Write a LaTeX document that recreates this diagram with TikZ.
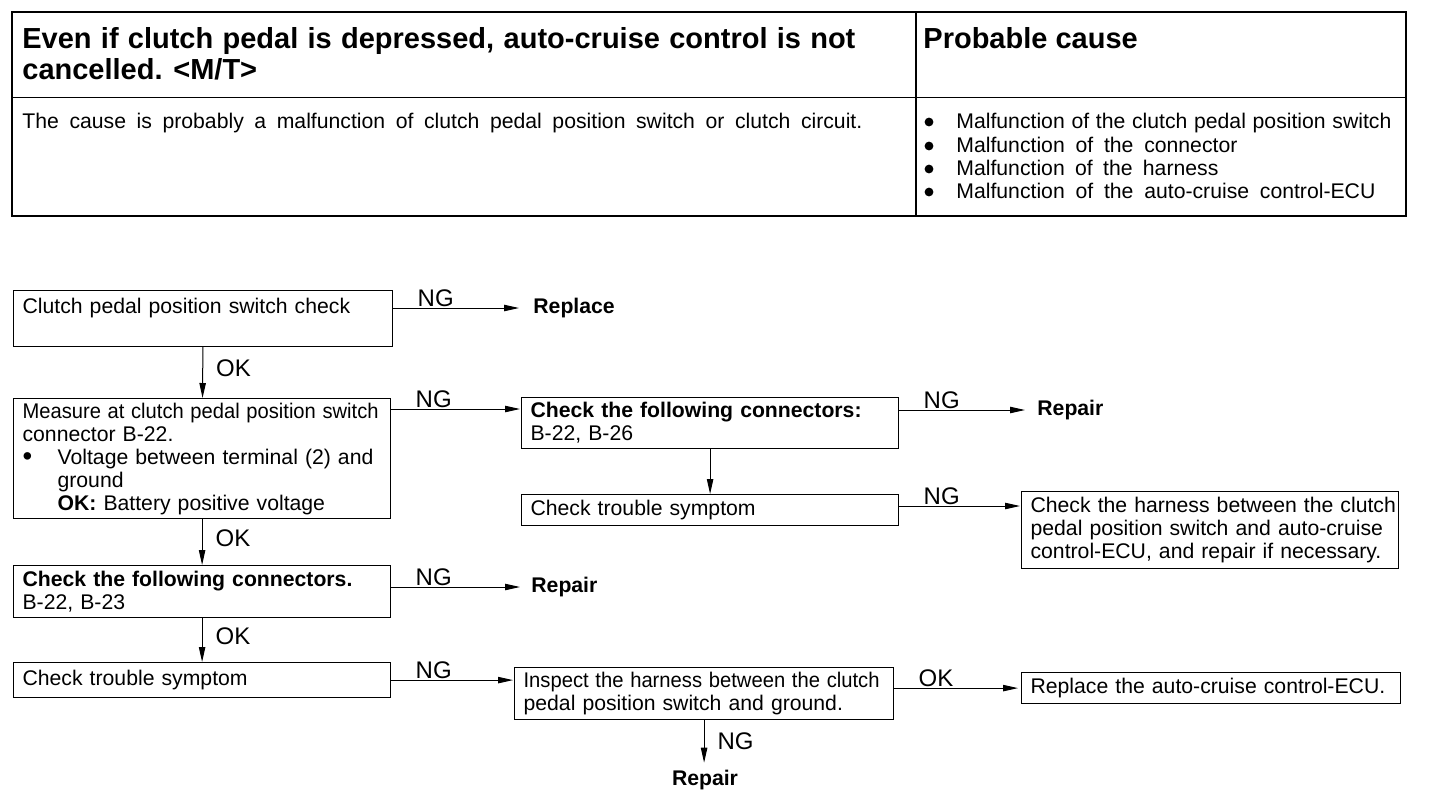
\documentclass[tikz,border=0pt]{standalone}
\usepackage{fontspec}
\setmainfont{Liberation Sans}
\usepackage{graphicx}
\usetikzlibrary{arrows.meta,calc}
\newcommand\jline[2]{\makebox[#1][s]{#2}}
\newcommand\sqline[2]{\resizebox{#1}{\height}{#2}}
\newcommand\bodyfont{\fontsize{10.6}{11.5}\selectfont}
\newcommand\bigbul{\raisebox{-0.6pt}{\scalebox{1.3}{\textbullet}}}
\begin{document}
\begin{tikzpicture}[x=0.5pt,y=-0.5pt,
  box/.style={draw, line width=0.6pt, anchor=north west, inner xsep=4.5pt, inner ysep=0pt, align=left, font=\bodyfont},
  txt/.style={inner sep=0pt, font=\bodyfont},
  ttl/.style={inner sep=0pt, font=\fontsize{14.5}{15.5}\selectfont\bfseries},
  res/.style={inner sep=0pt, font=\bodyfont\bfseries},
  lab/.style={inner sep=0.5pt, font=\fontsize{12}{12}\selectfont},
  ng/.style={lab, pos=0, anchor=south west, xshift=11.5pt},
  ok/.style={lab, midway, anchor=west, xshift=6pt, yshift=2pt},
  arr/.style={line width=0.5pt, -{Triangle[length=7.5pt,width=3.2pt]}}]
\useasboundingbox (0,0) rectangle (1440,804);

% ---------- table ----------
\draw[line width=1.3pt] (12,12) rectangle (1406,216);
\draw[line width=0.8pt] (916,12) -- (916,216);
\draw[line width=0.5pt] (12,97) -- (1406,97);
\node[ttl, anchor=base west] (t1) at (22,48.5) {\jline{416.5pt}{Even if clutch pedal is depressed, auto-cruise control is not}};
\node[ttl, anchor=base west] (t2) at (22,79) {cancelled. <M/T>};
\node[ttl, anchor=base west] (t3) at (923,48.5) {Probable cause};
\node[txt, anchor=base west] (t4) at (22,128) {\jline{420pt}{The cause is probably a malfunction of clutch pedal position switch or clutch circuit.}};
\foreach \yy in {122,146,169,192} \fill (929,\yy) circle (2.2pt);
\node[txt, anchor=base west] (p1) at (956,128) {\jline{217.5pt}{Malfunction of the clutch pedal position switch}};
\node[txt, anchor=base west] (p2) at (956,152) {\jline{140.5pt}{Malfunction of the connector}};
\node[txt, anchor=base west] (p3) at (956,175) {\jline{131pt}{Malfunction of the harness}};
\node[txt, anchor=base west] (p4) at (956,198) {\jline{209.5pt}{Malfunction of the auto-cruise control-ECU}};

% ---------- flowchart boxes ----------
\node[box, minimum width=189.5pt, minimum height=28pt, text width=180.5pt] (A) at (13,290)
  {\jline{172.5pt}{Clutch pedal position switch check}\\[1pt] \mbox{}};
\node[box, minimum width=188.5pt, minimum height=60pt, text width=179.5pt] (B) at (13,398)
  {\sqline{178pt}{Measure at clutch pedal position switch}\\
   connector B-22.\\
   \makebox[17.5pt][l]{\bigbul}\jline{161pt}{Voltage between terminal (2) and}\\
   \hspace*{17.5pt}ground\\
   \hspace*{17.5pt}\jline{138.5pt}{\textbf{OK:} Battery positive voltage}};
\node[box, minimum width=188.5pt, minimum height=25.5pt, text width=179.5pt] (C) at (521,397)
  {\jline{171pt}{\bfseries Check the following connectors:}\\ B-22, B-26};
\node[box, minimum width=188.5pt, minimum height=15.5pt, text width=179.5pt] (D) at (521,494)
  {\jline{116.5pt}{Check trouble symptom}};
\node[box, minimum width=188.5pt, minimum height=38.5pt, text width=179.5pt] (E) at (1021,491)
  {\jline{179pt}{Check the harness between the clutch}\\
   \jline{179pt}{pedal position switch and auto-cruise}\\
   \jline{179pt}{control-ECU, and repair if necessary.}};
\node[box, minimum width=188.5pt, minimum height=26pt, text width=179.5pt] (F) at (13,565)
  {\jline{170pt}{\bfseries Check the following connectors.}\\ B-22, B-23};
\node[box, minimum width=188.5pt, minimum height=17.5pt, text width=179.5pt] (G) at (13,662)
  {\jline{116.5pt}{Check trouble symptom}};
\node[box, minimum width=189.5pt, minimum height=26pt, text width=180.5pt] (H) at (514,667)
  {\sqline{178pt}{Inspect the harness between the clutch}\\
   \jline{167.5pt}{pedal position switch and ground.}};
\node[box, minimum width=189.5pt, minimum height=15.5pt, text width=180.5pt] (I) at (1021,672)
  {\jline{178pt}{Replace the auto-cruise control-ECU.}};

% ---------- result texts ----------
\node[res, anchor=west] (r1) at (533,308) {Replace};
\node[res, anchor=west] (r2) at (1037,410) {Repair};
\node[res, anchor=west] (r3) at (531,587) {Repair};
\node[res] (r4) at (705,780) {Repair};

% ---------- connectors ----------
\coordinate (c1) at ($(C.north west)+(0,12)$);
\coordinate (e1) at ($(E.north west)+(0,15)$);

\draw[arr, shorten >=7pt] (r1.west -| A.east) -- node[ng]{NG} (r1.west);
\draw[arr] (A) -- node[ok]{OK} (B);
\draw[arr, shorten >=0.5pt] (c1 -| B.east) -- node[ng]{NG} (c1);
\draw[arr, shorten >=6pt] (r2.west -| C.east) -- node[ng]{NG} (r2.west);
\draw[arr] (C) -- (D);
\draw[arr, shorten >=0.5pt] (e1 -| D.east) -- node[ng]{NG} (e1);
\draw[arr] (B) -- node[ok]{OK} (F);
\draw[arr, shorten >=5.5pt] (r3.west -| F.east) -- node[ng]{NG} (r3.west);
\draw[arr] (F) -- node[ok]{OK} (G);
\draw[arr, shorten >=0.5pt] (G.east) -- node[ng]{NG} (G.east -| H.west);
\draw[arr, shorten >=1.5pt] (I.west -| H.east) -- node[ng]{OK} (I.west);
\draw[arr, shorten >=3.5pt] (H.south) -- node[ok]{NG} (H.south |- r4.north);
\end{tikzpicture}
\end{document}
